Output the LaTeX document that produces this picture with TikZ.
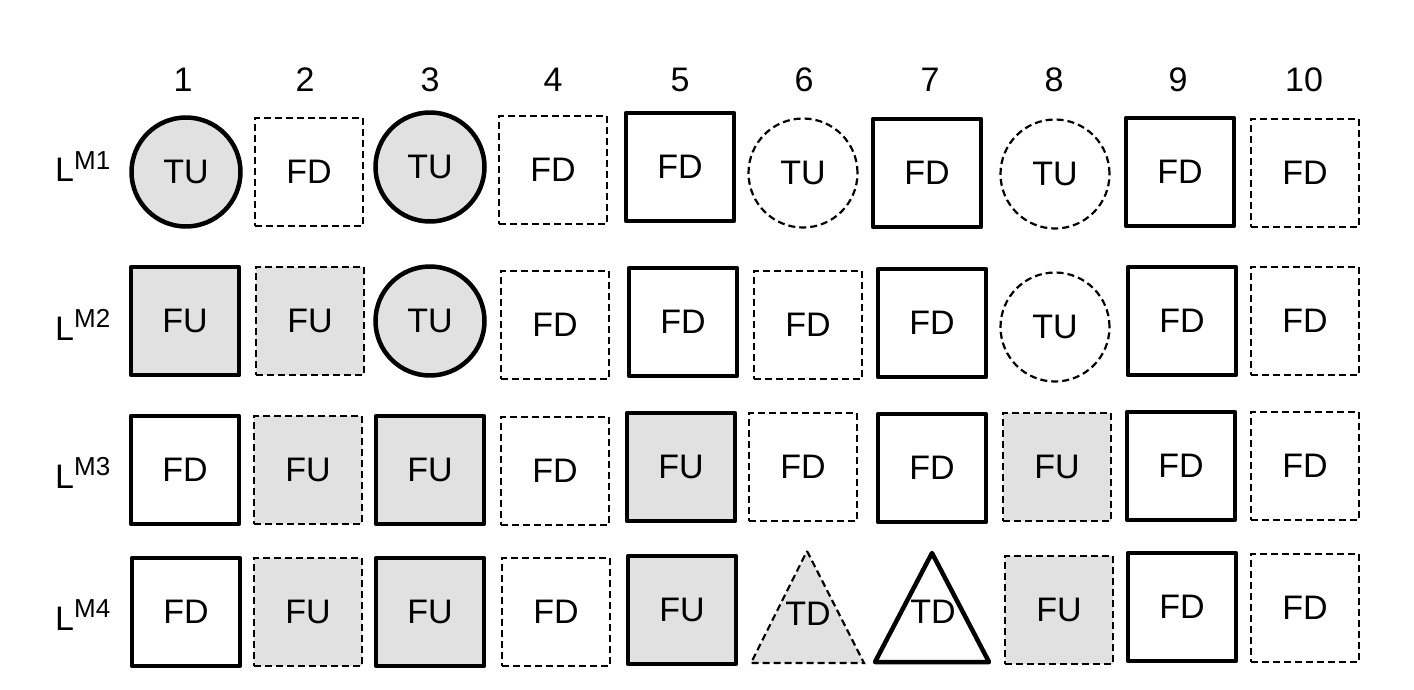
\documentclass[tikz,border=0pt]{standalone}
\usepackage{fontspec}
\setmainfont{Liberation Sans}
\definecolor{gfill}{HTML}{E1E1E1}
\tikzset{
  big/.style={font=\fontsize{34}{40}\selectfont},
  sq/.style={rectangle, minimum width=108pt, minimum height=108pt, inner sep=0pt, big},
  ci/.style={circle, minimum size=109pt, inner sep=0pt, big},
  thk/.style={draw, line width=4.5pt, line join=round},
  dsh/.style={draw, line width=2.2pt, dash pattern=on 7pt off 4pt},
  gry/.style={fill=gfill},
  lbl/.style={big, inner sep=0pt},
}
\newcommand{\rowlab}[1]{L\raisebox{13pt}{\fontsize{26}{26}\selectfont M#1}}
\begin{document}
\begin{tikzpicture}[x=1pt,y=-1pt]
\useasboundingbox (0,0) rectangle (1414,690);
% column numbers
\node[lbl] (c1) at (183,80) {1};
\node[lbl] (c2) at (305,80) {2};
\node[lbl] (c3) at (430,80) {3};
\node[lbl] (c4) at (553,80) {4};
\node[lbl] (c5) at (680,80) {5};
\node[lbl] (c6) at (804,80) {6};
\node[lbl] (c7) at (930,80) {7};
\node[lbl] (c8) at (1054,80) {8};
\node[lbl] (c9) at (1178,80) {9};
\node[lbl] (c10) at (1304,80) {10};
% row labels
\node[lbl, anchor=base west] (r1) at (55,182) {\rowlab{1}};
\node[lbl, anchor=base west] (r2) at (55,340) {\rowlab{2}};
\node[lbl, anchor=base west] (r3) at (55,488) {\rowlab{3}};
\node[lbl, anchor=base west] (r4) at (55,630) {\rowlab{4}};
% row 1
\node[ci, thk, gry] (a1) at (186,172) {TU};
\node[sq, dsh] (a2) at (309,172) {FD};
\node[ci, thk, gry] (a3) at (430,167) {TU};
\node[sq, dsh] (a4) at (553,170) {FD};
\node[sq, thk] (a5) at (680,167) {FD};
\node[ci, dsh] (a6) at (803,173) {TU};
\node[sq, thk] (a7) at (927,173) {FD};
\node[ci, dsh] (a8) at (1055,174) {TU};
\node[sq, thk] (a9) at (1180,172) {FD};
\node[sq, dsh] (a10) at (1305,173) {FD};
% row 2
\node[sq, thk, gry] (b1) at (185,321) {FU};
\node[sq, dsh, gry] (b2) at (310,321) {FU};
\node[ci, thk, gry] (b3) at (430,321) {TU};
\node[sq, dsh] (b4) at (555,325) {FD};
\node[sq, thk] (b5) at (683,322) {FD};
\node[sq, dsh] (b6) at (808,325) {FD};
\node[sq, thk] (b7) at (932,323) {FD};
\node[ci, dsh] (b8) at (1055,327) {TU};
\node[sq, thk] (b9) at (1182,321) {FD};
\node[sq, dsh] (b10) at (1305,321) {FD};
% row 3
\node[sq, thk] (d1) at (185,470) {FD};
\node[sq, dsh, gry] (d2) at (308,470) {FU};
\node[sq, thk, gry] (d3) at (430,470) {FU};
\node[sq, dsh] (d4) at (555,471) {FD};
\node[sq, thk, gry] (d5) at (681,467) {FU};
\node[sq, dsh] (d6) at (803,467) {FD};
\node[sq, thk] (d7) at (932,468) {FD};
\node[sq, dsh, gry] (d8) at (1057,467) {FU};
\node[sq, thk] (d9) at (1181,466) {FD};
\node[sq, dsh] (d10) at (1305,466) {FD};
% row 4
\node[sq, thk] (e1) at (186,612) {FD};
\node[sq, dsh, gry] (e2) at (308,612) {FU};
\node[sq, thk, gry] (e3) at (430,612) {FU};
\node[sq, dsh] (e4) at (556,612) {FD};
\node[sq, thk, gry] (e5) at (682,610) {FU};
\coordinate (t6a) at (807,551);
\coordinate (t6b) at (864,663);
\coordinate (t6c) at (751,663);
\draw[dsh, gry] (t6a) -- (t6b) -- (t6c) -- cycle;
\node[lbl] (e6) at (808,614) {TD};
\coordinate (t7a) at (932,553);
\coordinate (t7b) at (989,662);
\coordinate (t7c) at (875,662);
\draw[thk] (t7a) -- (t7b) -- (t7c) -- cycle;
\node[lbl] (e7) at (933,612) {TD};
\node[sq, dsh, gry] (e8) at (1059,610) {FU};
\node[sq, thk] (e9) at (1182,607) {FD};
\node[sq, dsh] (e10) at (1305,608) {FD};
\end{tikzpicture}
\end{document}
